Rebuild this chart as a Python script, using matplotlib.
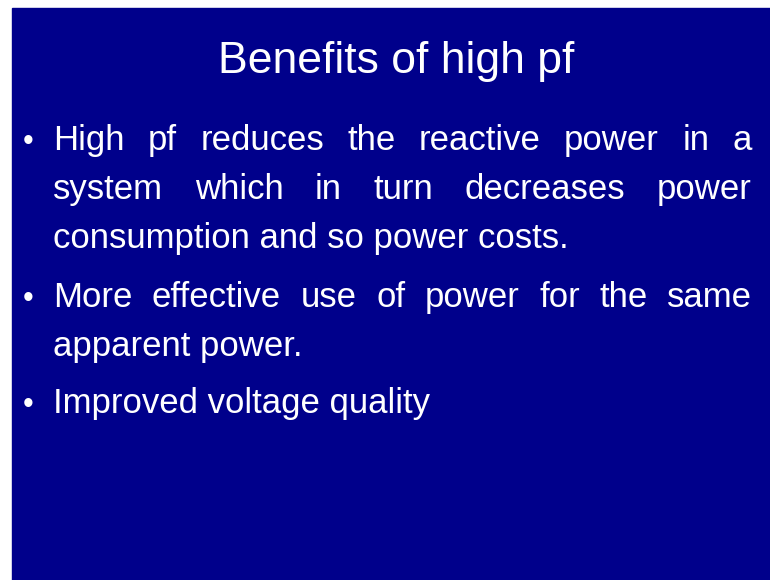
import matplotlib.pyplot as plt
from matplotlib.patches import Rectangle

title = "Benefits of high pf"
# each bullet: list of (line text, justified?)
bullet1 = [("High pf reduces the reactive power in a", True),
           ("system which in turn decreases power", True),
           ("consumption and so power costs.", False)]
bullet2 = [("More effective use of power for the same", True),
           ("apparent power.", False)]
bullet3 = [("Improved voltage quality", False)]
bullets = [bullet1, bullet2, bullet3]

# baselines (pixels from top) of the first line of each bullet
bullet_base = [150, 307, 413]
line_gap = 49

bg = '#00008B'
font = 'Liberation Sans'
size = 25
left, right = 53, 752

fig = plt.figure(figsize=(7.7, 5.8), dpi=100)
fig.patch.set_facecolor('white')
ax = fig.add_axes([0, 0, 1, 1])
ax.set_xlim(0, 770)
ax.set_ylim(580, 0)
ax.axis('off')
ax.add_patch(Rectangle((12, 8), 770 - 12, 580 - 8, color=bg, zorder=0))

ax.text(396, 73, title, color='white', fontsize=32, family=font,
        ha='center', va='baseline')

renderer = fig.canvas.get_renderer()
for lines, y0 in zip(bullets, bullet_base):
    ax.text(28.5, y0 - 8, u'\u2022', color='white', fontsize=22, family=font,
            ha='center', va='center')
    for i, (line, just) in enumerate(lines):
        y = y0 + i * line_gap
        if not just:
            ax.text(left, y, line, color='white', fontsize=size, family=font,
                    ha='left', va='baseline')
            continue
        words = line.split()
        objs = [ax.text(0, y, w, color='white', fontsize=size, family=font,
                        ha='left', va='baseline') for w in words]
        widths = [o.get_window_extent(renderer).width for o in objs]
        gap = (right - left - sum(widths)) / (len(words) - 1)
        x = left
        for o, w in zip(objs, widths):
            o.set_x(x)
            x += w + gap

fig.savefig('out.png', dpi=100, facecolor=fig.get_facecolor())
